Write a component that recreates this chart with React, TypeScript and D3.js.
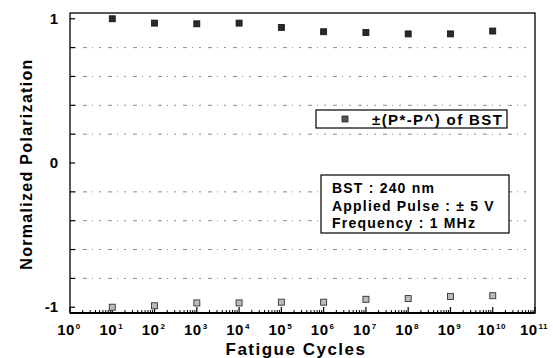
import * as d3 from "d3";
import React, { useEffect, useRef } from "react";

// fatigue cycles (exponent of 10)
const cycleExps = [1, 2, 3, 4, 5, 6, 7, 8, 9, 10];
const posPol = [1.0, 0.97, 0.965, 0.97, 0.94, 0.91, 0.905, 0.895, 0.895, 0.915];
const negPol = [-1.0, -0.99, -0.97, -0.97, -0.965, -0.965, -0.945, -0.94, -0.925, -0.92];
const xTickExps = [0, 1, 2, 3, 4, 5, 6, 7, 8, 9, 10, 11];
const yTickLabels = [1, 0, -1];
const gridVals = [0.8, 0.6, 0.4, 0.2, -0.2, -0.4, -0.6, -0.8];
const legendLabel = "±(P*-P^) of BST";
const infoLines = ["BST : 240 nm", "Applied Pulse : ± 5 V", "Frequency : 1 MHz"];

const App: React.FC = () => {
  const ref = useRef<SVGSVGElement>(null);
  useEffect(() => {
    const svg = d3.select(ref.current);
    svg.selectAll("*").remove();
    const font = "'Liberation Sans', Arial, sans-serif";

    const left = 70, right = 535, top = 13, bottom = 313;
    const x = d3.scaleLog().domain([1, 1e11]).range([left, right]);
    const y = d3.scaleLinear().domain([-1.04, 1.04]).range([bottom, top]);

    // gridlines (dotted, broken)
    svg
      .append("g")
      .selectAll("line")
      .data(gridVals)
      .join("line")
      .attr("x1", left + 4)
      .attr("x2", right - 2)
      .attr("y1", (d) => y(d))
      .attr("y2", (d) => y(d))
      .attr("stroke", "#8a8a8a")
      .attr("stroke-width", 1)
      .attr("stroke-dasharray", "2,7,4,5,1,6");

    // frame
    svg
      .append("rect")
      .attr("x", left)
      .attr("y", top)
      .attr("width", right - left)
      .attr("height", bottom - top)
      .attr("fill", "none")
      .attr("stroke", "#000")
      .attr("stroke-width", 1.3);
    svg
      .append("line")
      .attr("x1", left)
      .attr("x2", right)
      .attr("y1", bottom)
      .attr("y2", bottom)
      .attr("stroke", "#000")
      .attr("stroke-width", 2.2);

    // x ticks: major + minor
    const minor: number[] = [];
    for (let e = 0; e < 11; e++) for (let m = 2; m <= 9; m++) minor.push(m * Math.pow(10, e));
    svg
      .append("g")
      .selectAll("line")
      .data(minor)
      .join("line")
      .attr("x1", (d) => x(d))
      .attr("x2", (d) => x(d))
      .attr("y1", bottom)
      .attr("y2", bottom - 3)
      .attr("stroke", "#000");
    svg
      .append("g")
      .selectAll("line")
      .data(xTickExps)
      .join("line")
      .attr("x1", (d) => x(Math.pow(10, d)))
      .attr("x2", (d) => x(Math.pow(10, d)))
      .attr("y1", bottom)
      .attr("y2", bottom - 6)
      .attr("stroke", "#000")
      .attr("stroke-width", 1.2);

    // x tick labels
    const xl = svg
      .append("g")
      .selectAll("text")
      .data(xTickExps)
      .join("text")
      .attr("x", (d) => x(Math.pow(10, d)) - 1)
      .attr("y", 335)
      .attr("text-anchor", "middle")
      .attr("font-family", font)
      .attr("font-weight", "bold")
      .attr("font-size", 15)
      .attr("letter-spacing", 0.5);
    xl.append("tspan").text("10");
    xl.append("tspan")
      .attr("dy", -6)
      .attr("dx", 1)
      .attr("font-size", 8)
      .text((d) => String(d));

    // y ticks (every 0.2)
    const yTicks = d3.range(-1, 1.01, 0.2);
    svg
      .append("g")
      .selectAll("line")
      .data(yTicks)
      .join("line")
      .attr("x1", left)
      .attr("x2", left + 5)
      .attr("y1", (d) => y(d))
      .attr("y2", (d) => y(d))
      .attr("stroke", "#000")
      .attr("stroke-width", 1.2);
    svg
      .append("g")
      .selectAll("text")
      .data(yTickLabels)
      .join("text")
      .attr("x", left - 12)
      .attr("y", (d) => y(d) + 5)
      .attr("text-anchor", "end")
      .attr("font-family", font)
      .attr("font-weight", "bold")
      .attr("font-size", 15)
      .text((d) => (d < 0 ? "-" + Math.abs(d) : String(d)));

    // markers
    const size = 6;
    svg
      .append("g")
      .selectAll("rect")
      .data(cycleExps)
      .join("rect")
      .attr("x", (d) => x(Math.pow(10, d)) - size / 2)
      .attr("y", (d, i) => y(posPol[i]) - size / 2)
      .attr("width", size)
      .attr("height", size)
      .attr("fill", "#2a2a2a")
      .attr("stroke", "#111")
      .attr("stroke-width", 0.8);
    svg
      .append("g")
      .selectAll("rect")
      .data(cycleExps)
      .join("rect")
      .attr("x", (d) => x(Math.pow(10, d)) - size / 2)
      .attr("y", (d, i) => y(negPol[i]) - size / 2)
      .attr("width", size)
      .attr("height", size)
      .attr("fill", "#bbb")
      .attr("stroke", "#333")
      .attr("stroke-width", 0.9);

    // legend box
    svg
      .append("rect")
      .attr("x", 316)
      .attr("y", 110)
      .attr("width", 191)
      .attr("height", 18)
      .attr("fill", "#fff")
      .attr("stroke", "#000")
      .attr("stroke-width", 1.2);
    svg
      .append("rect")
      .attr("x", 342)
      .attr("y", 116)
      .attr("width", size)
      .attr("height", size)
      .attr("fill", "#555")
      .attr("stroke", "#222")
      .attr("stroke-width", 0.8);
    svg
      .append("text")
      .attr("x", 372)
      .attr("y", 124.5)
      .attr("font-family", font)
      .attr("font-weight", "bold")
      .attr("font-size", 15)
      .attr("letter-spacing", 1.4)
      .text(legendLabel);

    // info box
    svg
      .append("rect")
      .attr("x", 321)
      .attr("y", 175)
      .attr("width", 188)
      .attr("height", 58)
      .attr("fill", "#fff")
      .attr("stroke", "#000")
      .attr("stroke-width", 1.2);
    svg
      .append("g")
      .selectAll("text")
      .data(infoLines)
      .join("text")
      .attr("x", 332)
      .attr("y", (d, i) => 193 + i * 17.5)
      .attr("font-family", font)
      .attr("font-weight", "bold")
      .attr("font-size", 14)
      .attr("letter-spacing", 1.2)
      .text((d) => d);

    // axis titles
    svg
      .append("text")
      .attr("transform", `translate(32, 164) rotate(-90)`)
      .attr("text-anchor", "middle")
      .attr("font-family", font)
      .attr("font-weight", "bold")
      .attr("font-size", 16)
      .attr("letter-spacing", 1.3)
      .text("Normalized Polarization");
    svg
      .append("text")
      .attr("x", 296)
      .attr("y", 355)
      .attr("text-anchor", "middle")
      .attr("font-family", font)
      .attr("font-weight", "bold")
      .attr("font-size", 17)
      .attr("letter-spacing", 1.5)
      .text("Fatigue Cycles");
  }, []);

  return (
    <svg
      ref={ref}
      width={553}
      height={358}
      style={{ position: "absolute", left: 0, top: 0, background: "#fff" }}
    ></svg>
  );
};

export default App;
